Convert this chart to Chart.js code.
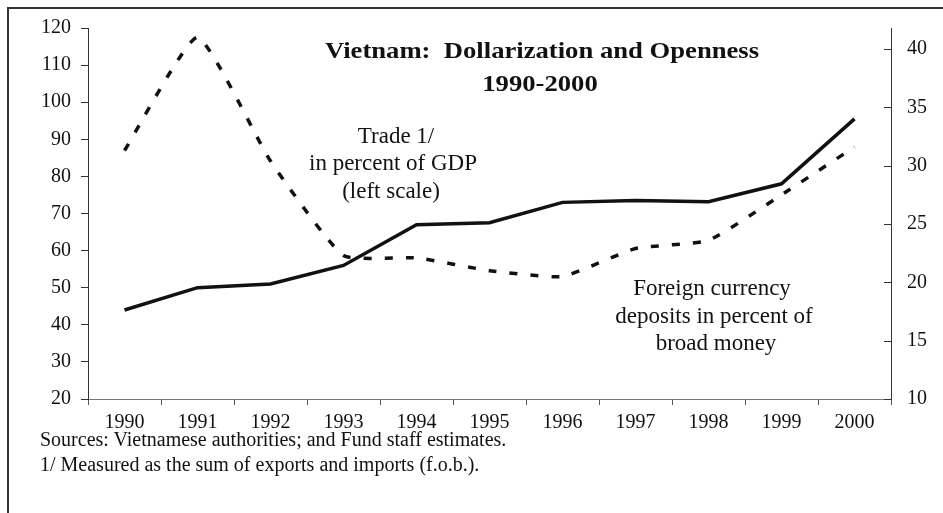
<!DOCTYPE html>
<html>
<head>
<meta charset="utf-8">
<script src="https://cdn.jsdelivr.net/npm/chart.js@4.4.0/dist/chart.umd.min.js"></script>
<style>
body { margin: 0; background: #fff; }
#wrap { position: relative; width: 943px; height: 513px; overflow: hidden; }
#frame { position: absolute; left: 7px; top: 7px; width: 960px; height: 520px;
  border-left: 2px solid #333; border-top: 2px solid #333; }
canvas { position: absolute; left: 0; top: 0; }
.note { position: absolute; left: 40px; font-family: "Liberation Serif", "Times New Roman", serif;
  font-size: 20px; color: #111; white-space: nowrap; line-height: 1; }
</style>
</head>
<body>
<div id="wrap">
  <div id="frame"></div>
  <canvas id="myChart" width="943" height="513"></canvas>
  <div class="note" style="top:429px">Sources: Vietnamese authorities; and Fund staff estimates.</div>
  <div class="note" style="top:454px">1/ Measured as the sum of exports and imports (f.o.b.).</div>
</div>
<script>
"use strict";

// jaren
const years = ['1990', '1991', '1992', '1993', '1994', '1995', '1996', '1997', '1998', '1999', '2000'];
// trade in percent of GDP (left scale)
const tradeValues = [44, 50, 51, 56, 67, 67.5, 73, 73.5, 73.2, 78, 95.5];
// foreign currency deposits in percent of broad money (right scale)
const depositValues = [31.3, 41, 30.4, 22.3, 22.1, 21, 20.5, 22.9, 23.6, 27.5, 31.6];
const leftTicks = [20, 30, 40, 50, 60, 70, 80, 90, 100, 110, 120];
const rightTicks = [10, 15, 20, 25, 30, 35, 40];

const serif = '"Liberation Serif", "Times New Roman", serif';
const ink = '#111';

// tekst iets breder zetten, zoals in de scan
function wideText(ctx, text, x, y, sx) {
    ctx.save();
    ctx.translate(x, y);
    ctx.scale(sx, 1);
    ctx.fillText(text, 0, 0);
    ctx.restore();
}

// teksten in de grafiek
const textPlugin = {
    id: 'texts',
    afterDraw(chart) {
        const ctx = chart.ctx;
        ctx.save();
        ctx.fillStyle = ink;
        ctx.textAlign = 'center';
        ctx.textBaseline = 'middle';
        ctx.font = 'bold 24px ' + serif;
        wideText(ctx, 'Vietnam:  Dollarization and Openness', 542, 52, 1.11);
        wideText(ctx, '1990-2000', 540, 85, 1.11);
        ctx.font = '23px ' + serif;
        ctx.fillText('Trade 1/', 396, 137);
        ctx.fillText('in percent of GDP', 393, 164);
        ctx.fillText('(left scale)', 391, 192);
        ctx.fillText('Foreign currency', 712, 289);
        ctx.fillText('deposits in percent of', 714, 317);
        ctx.fillText('broad money', 716, 344);

        // rechter as: streepjes naar binnen
        const y2 = chart.scales.y2;
        ctx.strokeStyle = '#333';
        ctx.lineWidth = 1;
        rightTicks.forEach(v => {
            const y = Math.round(y2.getPixelForValue(v)) + 0.5;
            ctx.beginPath();
            ctx.moveTo(y2.left, y);
            ctx.lineTo(y2.left - 7, y);
            ctx.stroke();
        });
        ctx.restore();
    }
};

const ctx = document.getElementById('myChart').getContext('2d');
const chart = new Chart(ctx, {
    type: 'line',
    data: {
        labels: years,
        datasets: [{
            label: 'Trade',
            data: tradeValues,
            yAxisID: 'y',
            borderColor: ink,
            borderWidth: 3.5,
            pointRadius: 0,
            tension: 0,
            fill: false
        }, {
            label: 'Foreign currency deposits',
            data: depositValues,
            yAxisID: 'y2',
            borderColor: ink,
            borderWidth: 3.5,
            borderDash: [8, 13],
            pointRadius: 0,
            tension: 0.15,
            fill: false
        }]
    },
    options: {
        responsive: false,
        animation: false,
        layout: { padding: { top: 27, left: 0, right: 0, bottom: 0 } },
        plugins: {
            legend: { display: false },
            title: { display: false },
            tooltip: { enabled: false }
        },
        scales: {
            x: {
                type: 'category',
                offset: true,
                grid: { offset: true, drawOnChartArea: false, tickLength: 6, color: '#555' },
                border: { color: '#777', width: 1 },
                ticks: { color: ink, font: { family: serif, size: 20 }, padding: 6, maxRotation: 0 },
                afterFit(scale) { scale.height = 114; }
            },
            y: {
                position: 'left',
                min: 20,
                max: 120,
                grid: { drawOnChartArea: false, tickLength: 7, color: '#333' },
                border: { color: '#333', width: 1 },
                ticks: { stepSize: 10, color: ink, font: { family: serif, size: 20 }, padding: 10 },
                afterBuildTicks(scale) { scale.ticks = leftTicks.map(v => ({ value: v })); },
                afterFit(scale) { scale.width = 88; }
            },
            y2: {
                position: 'right',
                min: 10,
                max: 41.8,
                grid: { display: true, drawOnChartArea: false, drawTicks: false },
                border: { color: '#333', width: 1 },
                ticks: { stepSize: 5, color: ink, font: { family: serif, size: 20 }, padding: 16 },
                afterBuildTicks(scale) { scale.ticks = rightTicks.map(v => ({ value: v })); },
                afterFit(scale) { scale.width = 52; }
            }
        }
    },
    plugins: [textPlugin]
});
</script>
</body>
</html>
